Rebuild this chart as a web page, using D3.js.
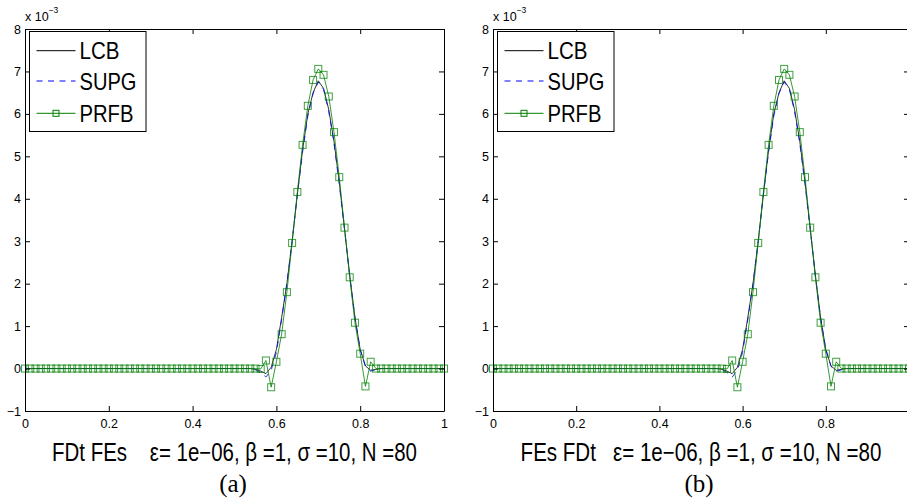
<!DOCTYPE html>
<html>
<head>
<meta charset="utf-8">
<script src="https://cdn.jsdelivr.net/npm/d3@7"></script>
<style>
  body { margin: 0; background: #fff; }
  svg { display: block; font-family: 'Liberation Sans', Arial, sans-serif; }
</style>
</head>
<body>
<svg id="chart" width="907" height="500"></svg>
<script>
'use strict'

// mesh nodes x_i = i / N, N = 80
var N = 80
var nodes = d3.range(0, N + 1).map((i) => i / N)

// values in units of 1e-3, one per node (i = 0..80)
var lcb = [
  0, 0, 0, 0, 0, 0, 0, 0, 0, 0,
  0, 0, 0, 0, 0, 0, 0, 0, 0, 0,
  0, 0, 0, 0, 0, 0, 0, 0, 0, 0,
  0, 0, 0, 0, 0, 0, 0, 0, 0, 0,
  0, 0, 0, 0, -0.02, -0.06, -0.12, 0.03, 0.45, 1.2,
  2.0, 3.0, 4.1, 5.15, 6.0, 6.5, 6.78, 6.6, 6.1, 5.35,
  4.4, 3.3, 2.2, 1.2, 0.45, 0.06, -0.04, -0.02, 0, 0,
  0, 0, 0, 0, 0, 0, 0, 0, 0, 0,
  0
]
var supg = [
  0, 0, 0, 0, 0, 0, 0, 0, 0, 0,
  0, 0, 0, 0, 0, 0, 0, 0, 0, 0,
  0, 0, 0, 0, 0, 0, 0, 0, 0, 0,
  0, 0, 0, 0, 0, 0, 0, 0, 0, 0,
  0, 0, 0, 0, -0.03, -0.09, -0.2, -0.04, 0.38, 1.15,
  2.0, 3.0, 4.1, 5.1, 5.95, 6.48, 6.75, 6.58, 6.05, 5.3,
  4.35, 3.28, 2.18, 1.2, 0.45, 0.05, -0.06, -0.03, 0, 0,
  0, 0, 0, 0, 0, 0, 0, 0, 0, 0,
  0
]
var prfb = [
  0, 0, 0, 0, 0, 0, 0, 0, 0, 0,
  0, 0, 0, 0, 0, 0, 0, 0, 0, 0,
  0, 0, 0, 0, 0, 0, 0, 0, 0, 0,
  0, 0, 0, 0, 0, 0, 0, 0, 0, 0,
  0, 0, 0, 0, 0, -0.01, 0.19, -0.44, 0.16, 0.81,
  1.8, 2.96, 4.16, 5.27, 6.19, 6.8, 7.06, 6.92, 6.41, 5.57,
  4.51, 3.32, 2.15, 1.08, 0.35, -0.42, 0.16, 0, 0, 0,
  0, 0, 0, 0, 0, 0, 0, 0, 0, 0,
  0
]

var seriesNames = ['LCB', 'SUPG', 'PRFB']
var yTicks = [-1, 0, 1, 2, 3, 4, 5, 6, 7, 8]
var xTicksA = [0, 0.2, 0.4, 0.6, 0.8, 1]
var xTicksB = [0, 0.2, 0.4, 0.6, 0.8]
var xLabels = [
  'FDt FEs    \u03b5= 1e\u221206, \u03b2 =1, \u03c3 =10, N =80',
  'FEs FDt   \u03b5= 1e\u221206, \u03b2 =1, \u03c3 =10, N =80'
]
var tags = ['(a)', '(b)']

var svg = d3.select('#chart')

var panels = [
  { left: 25, right: 444, ticks: xTicksA, label: xLabels[0], labelLen: 365, tag: tags[0], tagX: 233 },
  { left: 493, right: 909, ticks: xTicksB, label: xLabels[1], labelLen: 361, tag: tags[1], tagX: 699 }
]

var plotTop = 29
var plotBottom = 411

var styles = [
  { stroke: '#000', dash: null, marker: false },
  { stroke: '#0000ff', dash: '6,5.5', marker: false },
  { stroke: '#008000', dash: null, marker: true }
]

panels.forEach(drawPanel)

function fmtTick (d) {
  return d < 0 ? '\u2212' + Math.abs(d) : String(d)
}

// squeeze a text horizontally to a given width (the original font is narrow)
function squeeze (sel, width, anchorX, baseY, align) {
  var w = sel.node().getComputedTextLength()
  var k = width / w
  sel.attr('transform', 'translate(' + anchorX + ',' + baseY + ') scale(' + k + ',1)')
    .attr('text-anchor', align)
}

function drawPanel (p) {
  var x = d3.scaleLinear().domain([0, 1]).range([p.left, p.right])
  var y = d3.scaleLinear().domain([-1, 8]).range([plotBottom, plotTop])
  var g = svg.append('g')

  var data = [lcb, supg, prfb]

  // curves
  data.forEach(function (vals, k) {
    var st = styles[k]
    var pts = nodes.map((t, i) => [t, vals[i]])
    var line = d3.line().x((d) => x(d[0])).y((d) => y(d[1]))
    g.append('path')
      .datum(pts)
      .attr('d', line)
      .attr('fill', 'none')
      .attr('stroke', st.stroke)
      .attr('stroke-width', 0.8)
      .attr('stroke-dasharray', st.dash)
    if (st.marker) {
      g.append('g').selectAll('rect')
        .data(pts)
        .enter().append('rect')
          .attr('x', (d) => x(d[0]) - 3.5)
          .attr('y', (d) => y(d[1]) - 3.5)
          .attr('width', 7)
          .attr('height', 7)
          .attr('fill', 'none')
          .attr('stroke', st.stroke)
          .attr('stroke-opacity', 0.75)
          .attr('stroke-width', 1)
    }
  })

  // axes, ticks inward on all four sides
  var axB = g.append('g').attr('transform', 'translate(0,' + plotBottom + ')')
    .call(d3.axisBottom(x).tickValues(p.ticks).tickFormat(fmtTick)
      .tickSizeInner(-5).tickSizeOuter(0).tickPadding(8))
  var axT = g.append('g').attr('transform', 'translate(0,' + plotTop + ')')
    .call(d3.axisTop(x).tickValues(p.ticks).tickFormat('')
      .tickSizeInner(-5).tickSizeOuter(0))
  var axL = g.append('g').attr('transform', 'translate(' + p.left + ',0)')
    .call(d3.axisLeft(y).tickValues(yTicks).tickFormat(fmtTick)
      .tickSizeInner(-5).tickSizeOuter(0).tickPadding(4))
  var axR = g.append('g').attr('transform', 'translate(' + p.right + ',0)')
    .call(d3.axisRight(y).tickValues(yTicks).tickFormat('')
      .tickSizeInner(-5).tickSizeOuter(0))

  ;[axB, axT, axL, axR].forEach(function (a) {
    a.selectAll('path, line').attr('stroke', '#000').attr('stroke-width', 1)
    a.selectAll('text')
      .attr('fill', '#000')
      .style('font-family', "'Liberation Sans', Arial, sans-serif")
      .style('font-size', '12.5px')
  })

  // exponent label
  var ex = g.append('text')
    .attr('x', p.left)
    .attr('y', 20.5)
    .style('font-size', '12.5px')
  ex.append('tspan').text('x 10')
  ex.append('tspan').attr('dy', -8).style('font-size', '8.5px').text('\u22123')

  // legend
  var lg = g.append('g')
  lg.append('rect')
    .attr('x', p.left + 4.5)
    .attr('y', 31.5)
    .attr('width', 116.5)
    .attr('height', 100)
    .attr('fill', '#fff')
    .attr('stroke', '#000')
    .attr('stroke-width', 1)
  var rowY = [50.7, 81, 113.3]
  var textLen = [40, 57, 54]
  seriesNames.forEach(function (name, k) {
    var st = styles[k]
    lg.append('line')
      .attr('x1', p.left + 11.5).attr('x2', p.left + 50.5)
      .attr('y1', rowY[k]).attr('y2', rowY[k])
      .attr('stroke', st.stroke)
      .attr('stroke-width', 1)
      .attr('stroke-dasharray', st.dash)
    if (st.marker) {
      lg.append('rect')
        .attr('x', p.left + 31 - 3)
        .attr('y', rowY[k] - 3)
        .attr('width', 6).attr('height', 6)
        .attr('fill', 'none')
        .attr('stroke', st.stroke)
    }
    var t = lg.append('text')
      .style('font-size', '24px')
      .text(name)
    squeeze(t, textLen[k], p.left + 54.5, rowY[k] + 8.6, 'start')
  })

  // x label
  var xl = g.append('text')
    .style('font-size', '25px')
    .style('white-space', 'pre')
    .text(p.label)
  squeeze(xl, p.labelLen, (p.left + p.right) / 2, 461, 'middle')

  // panel tag
  g.append('text')
    .attr('x', p.tagX)
    .attr('y', 492)
    .attr('text-anchor', 'middle')
    .style('font-family', "'Liberation Serif', 'Times New Roman', serif")
    .style('font-size', '25px')
    .text(p.tag)
}
</script>
</body>
</html>
